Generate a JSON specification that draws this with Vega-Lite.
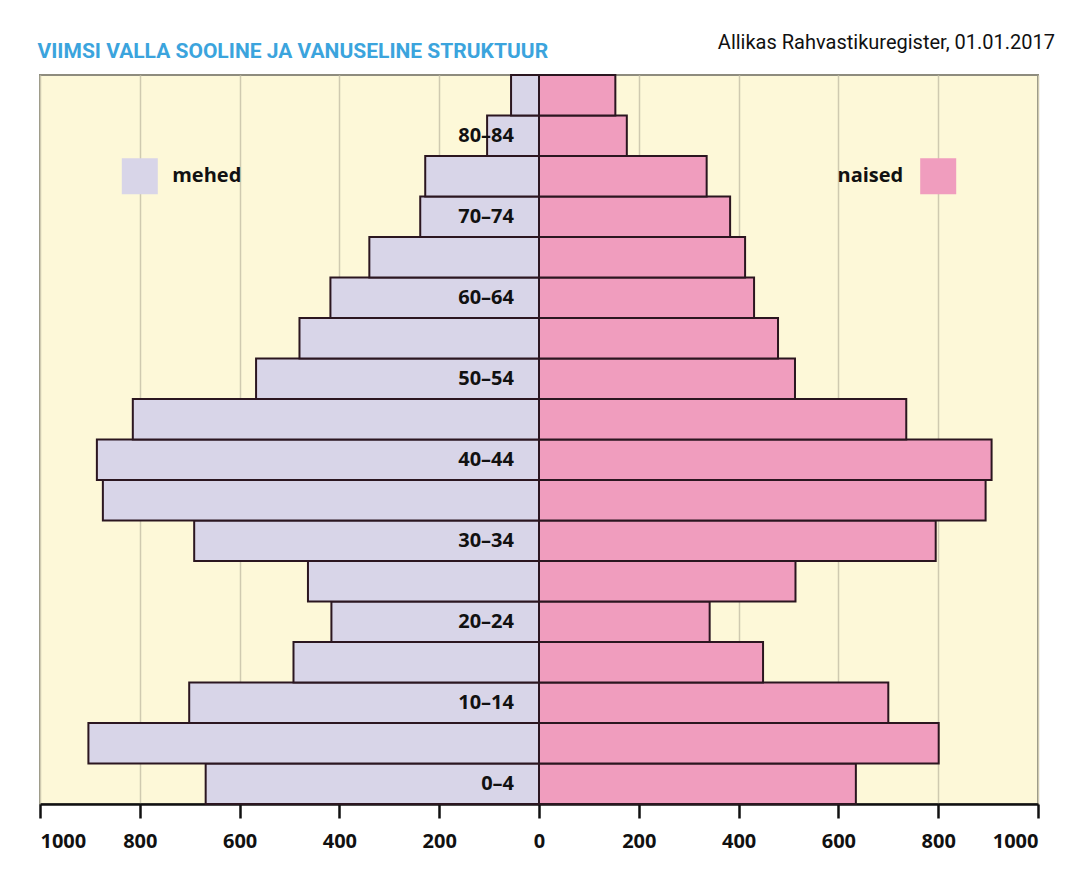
{
  "$schema": "https://vega.github.io/schema/vega-lite/v6.json",
  "width": 998,
  "height": 729,
  "autosize": {"type": "none"},
  "padding": {"left": 40, "top": 75, "right": 27, "bottom": 67},
  "background": "#ffffff",
  "title": {
    "text": "Allikas Rahvastikuregister, 01.01.2017",
    "anchor": "end",
    "frame": "group",
    "font": "Roboto",
    "fontSize": 20,
    "fontWeight": "normal",
    "color": "#111111",
    "baseline": "alphabetic",
    "dx": 17,
    "offset": -29
  },
  "config": {
    "view": {"fill": "#fdf8d8", "stroke": "#8e8c7e", "strokeWidth": 2}
  },
  "datasets": {
    "pop": [
      {"age": "0–4", "sex": "mehed", "n": 668},
      {"age": "5–9", "sex": "mehed", "n": 903},
      {"age": "10–14", "sex": "mehed", "n": 701},
      {"age": "15–19", "sex": "mehed", "n": 492},
      {"age": "20–24", "sex": "mehed", "n": 416},
      {"age": "25–29", "sex": "mehed", "n": 463},
      {"age": "30–34", "sex": "mehed", "n": 691},
      {"age": "35–39", "sex": "mehed", "n": 874},
      {"age": "40–44", "sex": "mehed", "n": 886},
      {"age": "45–49", "sex": "mehed", "n": 814},
      {"age": "50–54", "sex": "mehed", "n": 567},
      {"age": "55–59", "sex": "mehed", "n": 480},
      {"age": "60–64", "sex": "mehed", "n": 418},
      {"age": "65–69", "sex": "mehed", "n": 340},
      {"age": "70–74", "sex": "mehed", "n": 238},
      {"age": "75–79", "sex": "mehed", "n": 228},
      {"age": "80–84", "sex": "mehed", "n": 104},
      {"age": "85+", "sex": "mehed", "n": 56},
      {"age": "0–4", "sex": "naised", "n": 635},
      {"age": "5–9", "sex": "naised", "n": 801},
      {"age": "10–14", "sex": "naised", "n": 700},
      {"age": "15–19", "sex": "naised", "n": 449},
      {"age": "20–24", "sex": "naised", "n": 342},
      {"age": "25–29", "sex": "naised", "n": 514},
      {"age": "30–34", "sex": "naised", "n": 795},
      {"age": "35–39", "sex": "naised", "n": 895},
      {"age": "40–44", "sex": "naised", "n": 907},
      {"age": "45–49", "sex": "naised", "n": 736},
      {"age": "50–54", "sex": "naised", "n": 513},
      {"age": "55–59", "sex": "naised", "n": 479},
      {"age": "60–64", "sex": "naised", "n": 431},
      {"age": "65–69", "sex": "naised", "n": 413},
      {"age": "70–74", "sex": "naised", "n": 383},
      {"age": "75–79", "sex": "naised", "n": 336},
      {"age": "80–84", "sex": "naised", "n": 176},
      {"age": "85+", "sex": "naised", "n": 153}
    ],
    "labels": [
      {"age": "0–4"},
      {"age": "10–14"},
      {"age": "20–24"},
      {"age": "30–34"},
      {"age": "40–44"},
      {"age": "50–54"},
      {"age": "60–64"},
      {"age": "70–74"},
      {"age": "80–84"}
    ],
    "legend": [
      {"sex": "mehed"},
      {"sex": "naised"}
    ]
  },
  "layer": [
    {
      "data": {"name": "pop"},
      "transform": [
        {"calculate": "datum.sex === 'mehed' ? -datum.n : datum.n", "as": "v"}
      ],
      "mark": {"type": "bar", "stroke": "#2b1620", "strokeWidth": 2, "opacity": 1},
      "encoding": {
        "x": {
          "field": "v",
          "type": "quantitative",
          "scale": {"domain": [-1000, 1000], "nice": false},
          "axis": {
            "orient": "bottom",
            "title": null,
            "values": [-1000, -800, -600, -400, -200, 0, 200, 400, 600, 800, 1000],
            "labelExpr": "format(abs(datum.value), 'd')",
            "grid": true,
            "gridColor": "#cfcab0",
            "gridWidth": 1.5,
            "domainColor": "#111111",
            "domainWidth": 2.5,
            "tickColor": "#111111",
            "tickWidth": 2.5,
            "tickSize": 14,
            "labelFont": "Open Sans",
            "labelFontWeight": "bold",
            "labelFontSize": 20,
            "labelColor": "#111111",
            "labelPadding": 13,
            "labelFlush": true
          }
        },
        "y": {
          "field": "age",
          "type": "ordinal",
          "scale": {
            "domain": ["85+", "80–84", "75–79", "70–74", "65–69", "60–64", "55–59", "50–54", "45–49", "40–44", "35–39", "30–34", "25–29", "20–24", "15–19", "10–14", "5–9", "0–4"],
            "paddingInner": 0,
            "paddingOuter": 0
          },
          "axis": {
            "orient": "left",
            "labels": false,
            "ticks": false,
            "domain": false,
            "grid": false,
            "title": "VIIMSI VALLA SOOLINE JA VANUSELINE STRUKTUUR",
            "titleAngle": 0,
            "titleX": -3,
            "titleY": -18,
            "titleAlign": "left",
            "titleBaseline": "alphabetic",
            "titleFont": "Roboto",
            "titleFontSize": 21,
            "titleFontWeight": "bold",
            "titleColor": "#3ba4dd"
          }
        },
        "color": {
          "field": "sex",
          "type": "nominal",
          "scale": {"domain": ["mehed", "naised"], "range": ["#d8d5e8", "#f09dbe"]},
          "legend": null
        }
      }
    },
    {
      "data": {"name": "labels"},
      "mark": {"type": "text", "align": "right", "baseline": "middle", "dx": -25, "font": "Open Sans", "fontWeight": "bold", "fontSize": 20, "color": "#111111"},
      "encoding": {
        "x": {"datum": 0},
        "y": {"field": "age", "type": "ordinal"},
        "text": {"field": "age"}
      }
    },
    {
      "data": {"name": "legend"},
      "transform": [{"filter": "datum.sex === 'mehed'"}],
      "layer": [
        {
          "mark": {"type": "square", "size": 1296, "filled": true, "opacity": 1},
          "encoding": {
            "x": {"datum": -800},
            "y": {"datum": "75–79"},
            "color": {"field": "sex", "type": "nominal"}
          }
        },
        {
          "mark": {"type": "text", "align": "left", "baseline": "middle", "font": "Open Sans", "fontWeight": "bold", "fontSize": 20, "color": "#111111"},
          "encoding": {
            "x": {"datum": -735},
            "y": {"datum": "75–79"},
            "text": {"field": "sex"}
          }
        }
      ]
    },
    {
      "data": {"name": "legend"},
      "transform": [{"filter": "datum.sex === 'naised'"}],
      "layer": [
        {
          "mark": {"type": "square", "size": 1296, "filled": true, "opacity": 1},
          "encoding": {
            "x": {"datum": 800},
            "y": {"datum": "75–79"},
            "color": {"field": "sex", "type": "nominal"}
          }
        },
        {
          "mark": {"type": "text", "align": "right", "baseline": "middle", "font": "Open Sans", "fontWeight": "bold", "fontSize": 20, "color": "#111111"},
          "encoding": {
            "x": {"datum": 730},
            "y": {"datum": "75–79"},
            "text": {"field": "sex"}
          }
        }
      ]
    }
  ]
}
